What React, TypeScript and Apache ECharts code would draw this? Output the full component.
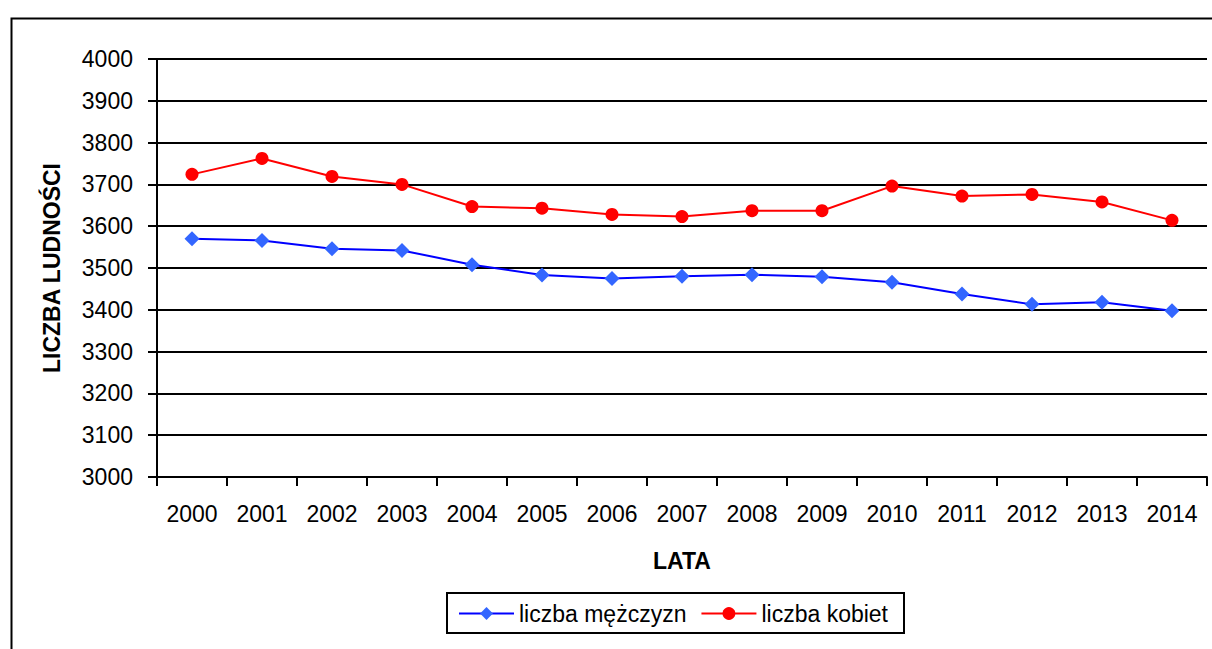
import React, { useEffect, useRef } from "react";
import * as echarts from "echarts";

const years = ["2000", "2001", "2002", "2003", "2004", "2005", "2006", "2007", "2008", "2009", "2010", "2011", "2012", "2013", "2014"];
const men = [3570, 3566, 3546, 3542, 3508, 3483, 3475, 3480, 3484, 3479, 3466, 3438, 3413, 3418, 3398];
const women = [3724, 3762, 3719, 3700, 3647, 3643, 3628, 3623, 3637, 3637, 3696, 3672, 3676, 3658, 3614];
const seriesNames = ["liczba mężczyzn", "liczba kobiet"];
const xTitle = "LATA";
const yTitle = "LICZBA LUDNOŚCI";

const FONT = "Arial, 'Liberation Sans', sans-serif";

export default function App() {
  const ref = useRef<HTMLDivElement>(null);
  useEffect(() => {
    if (!ref.current) return;
    const chart = echarts.init(ref.current, null, { renderer: "svg" });
    chart.setOption({
      animation: false,
      backgroundColor: "#ffffff",
      textStyle: { fontFamily: FONT },
      graphic: [
        {
          type: "rect",
          left: 9,
          top: 16,
          shape: { width: 1300, height: 700 },
          style: { fill: "none", stroke: "#000", lineWidth: 2 },
          z: -10,
        },
      ],
      grid: { left: 157, top: 59, right: 5, bottom: 172 },
      legend: {
        left: 447,
        top: 593,
        padding: [9, 16, 8, 11],
        borderColor: "#000",
        borderWidth: 2,
        itemWidth: 55,
        itemHeight: 16,
        itemGap: 14,
        textStyle: { fontSize: 23, color: "#000", fontFamily: FONT },
        data: seriesNames,
      },
      xAxis: {
        type: "category",
        data: years,
        boundaryGap: true,
        name: xTitle,
        nameLocation: "middle",
        nameGap: 72,
        nameTextStyle: { fontSize: 23, fontWeight: "bold", color: "#000", fontFamily: FONT },
        axisLine: { lineStyle: { color: "#000", width: 2 } },
        axisTick: { show: true, inside: false, length: 9, lineStyle: { color: "#000", width: 2 } },
        axisLabel: { fontSize: 23, color: "#000", margin: 25, fontFamily: FONT },
        splitLine: { show: false },
      },
      yAxis: {
        type: "value",
        min: 3000,
        max: 4000,
        interval: 100,
        name: yTitle,
        nameLocation: "middle",
        nameGap: 94,
        nameTextStyle: { fontSize: 23, fontWeight: "bold", color: "#000", fontFamily: FONT },
        axisLine: { show: true, lineStyle: { color: "#000", width: 2 } },
        axisTick: { show: true, inside: false, length: 9, lineStyle: { color: "#000", width: 2 } },
        axisLabel: {
          fontSize: 23,
          color: "#000",
          margin: 24,
          fontFamily: FONT,
          formatter: (v: number) => String(v),
        },
        splitLine: { show: true, lineStyle: { color: "#000", width: 2 } },
      },
      series: [
        {
          name: seriesNames[0],
          type: "line",
          data: men,
          symbol: "diamond",
          symbolSize: 15,
          lineStyle: { color: "#0000FF", width: 2 },
          itemStyle: { color: "#3366FF" },
        },
        {
          name: seriesNames[1],
          type: "line",
          data: women,
          symbol: "circle",
          symbolSize: 13,
          lineStyle: { color: "#FF0000", width: 2 },
          itemStyle: { color: "#FF0000" },
        },
      ],
    });
    return () => chart.dispose();
  }, []);
  return (
    <div
      ref={ref}
      style={{ position: "fixed", left: 0, top: 0, width: 1212, height: 649, background: "#fff" }}
    />
  );
}
